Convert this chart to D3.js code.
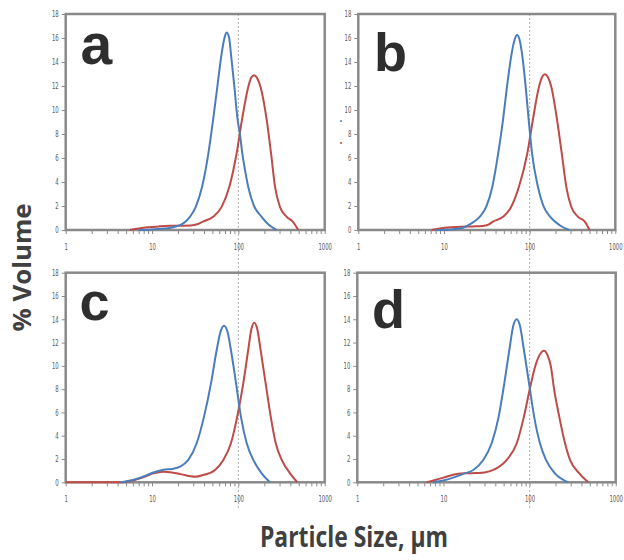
<!DOCTYPE html>
<html>
<head>
<meta charset="utf-8">
<script src="https://cdn.jsdelivr.net/npm/d3@7"></script>
<style>
  body { margin: 0; background: #fff; }
  .tick text { font-family: "Liberation Sans Narrow", "DejaVu Sans Condensed", "DejaVu Sans", sans-serif; font-stretch: condensed; font-size: 8.5px; fill: #5a5a5a; }
  .tick line { stroke: #8a8a8a; stroke-width: 1; }
</style>
</head>
<body>
<svg id="chart" width="624" height="560"></svg>
<script>
// Axis ticks
const xMajorTicks = [1, 10, 100, 1000];
const yTicks = [0, 2, 4, 6, 8, 10, 12, 14, 16, 18];
const refSize = 100; // dashed reference line, µm

// Particle size (µm) vs % volume for each sample
const A_BLUE = [[7,0],[10,0.05],[14,0.12],[18,0.25],[23,0.55],[27.5,1.1],[32,1.9],[38,3.6],[45,6.4],[51,9.2],[57,11.9],[64,14.7],[69,16.0],[73,16.45],[78,16.05],[82,14.7],[90,11.9],[98,9.2],[104,8.05],[111,6.4],[120,4.9],[130,3.6],[150,2.1],[186,1.1],[220,0.5],[250,0.2],[278,0]];
const A_RED = [[5.5,0],[7,0.12],[9,0.22],[12,0.3],[16,0.35],[22,0.36],[28,0.38],[34,0.5],[39,0.7],[51,1.1],[64,1.93],[78.6,3.6],[95.5,6.4],[110,9.17],[130,11.9],[141,12.7],[152,12.9],[164,12.7],[181,11.9],[213,9.17],[239,6.4],[266,3.6],[303,1.93],[363,1.1],[426,0.7],[495,0]];

const B_BLUE = [[8,0],[12,0.05],[16,0.15],[20.9,0.55],[26.1,1.1],[31.2,1.94],[36.7,3.6],[43,6.4],[48.9,9.17],[54.4,11.94],[61.7,14.72],[67,15.9],[71.2,16.25],[76,15.9],[81.4,14.72],[89.9,11.94],[97.5,9.17],[106.6,6.4],[125,3.6],[146,1.94],[174,1.1],[224,0.4],[288,0]];
const B_RED = [[7.2,0],[9,0.12],[12,0.22],[16,0.28],[22,0.3],[28,0.33],[33,0.45],[37.4,0.7],[49,1.1],[61,1.94],[75,3.6],[94,6.4],[109,9.17],[128.6,11.94],[140,12.75],[151,12.97],[163,12.75],[179,11.94],[209,9.17],[237,6.4],[268,3.6],[306,1.94],[367,1.1],[440,0.7],[501,0]];

const C_BLUE = [[4.3,0],[6,0.2],[7.9,0.48],[10,0.8],[13.5,1.08],[17,1.15],[21.1,1.34],[26.3,1.92],[32.9,3.35],[40,5.64],[48.2,8.5],[56.1,11.36],[62,12.9],[68.2,13.45],[75,12.9],[82,11.36],[94,8.5],[107,5.64],[125,3.35],[149,1.92],[186,0.77],[232,0]];
const C_RED = [[1,0],[4.6,0],[6,0.15],[8,0.45],[10.4,0.77],[13.5,0.91],[17,0.85],[22,0.68],[31.5,0.48],[39,0.62],[53.6,1.06],[67,1.92],[82,3.35],[97,5.64],[114,8.5],[130,11.36],[142,13.2],[153,13.71],[165,13.2],[181,11.36],[207,8.5],[237,5.64],[271,3.35],[318,1.92],[397,0.77],[482,0]];

const D_BLUE = [[7.6,0],[10,0.15],[13,0.4],[17,0.72],[22.2,1.06],[29,1.92],[36.3,3.35],[43.8,5.64],[50.9,8.5],[58.2,11.36],[65,13.5],[70.9,14.0],[77,13.5],[86,11.36],[98.6,8.5],[113,5.64],[132,3.35],[155,1.92],[197,0.77],[282,0]];
const D_RED = [[6.4,0],[8,0.2],[10,0.4],[13,0.65],[18,0.77],[24,0.8],[30,0.85],[38,1.06],[54.3,1.92],[71,3.35],[86,5.64],[101,8.07],[116,9.93],[130,10.9],[147,11.3],[162,10.9],[177,9.93],[192,8.07],[221,5.64],[258,3.35],[295,1.92],[378,0.77],[481,0]];

const panelLetters = ["a", "b", "c", "d"];
const panelData = [[A_BLUE, A_RED], [B_BLUE, B_RED], [C_BLUE, C_RED], [D_BLUE, D_RED]];

// Plot-area boxes [left, right, top, bottom] and letter placement
const layout = [
  { box: [65.7, 324.7, 14, 230],    letter: [80.5, 63.5, 57] },
  { box: [358.3, 615.3, 14, 230],   letter: [374, 70.5, 54] },
  { box: [65.7, 324.7, 272.7, 482.3], letter: [79.5, 320, 54] },
  { box: [357.3, 615.7, 272.7, 482.3], letter: [372, 328, 54] }
];

const BLUE = "#4a7ebb", RED = "#be4b48", FRAME = "#8a8a8a";

const svg = d3.select("#chart");

// all log ticks: 1..9 in every decade, plus 1000
const xAllTicks = [];
[1, 10, 100].forEach(d => d3.range(1, 10).forEach(k => xAllTicks.push(d * k)));
xAllTicks.push(1000);

const scales = layout.map(l => ({
  x: d3.scaleLog().domain([1, 1000]).range([l.box[0], l.box[1]]),
  y: d3.scaleLinear().domain([0, 18]).range([l.box[3], l.box[2]])
}));

// narrow tick numerals
function squeezeLabels(sel) {
  sel.selectAll(".tick text").each(function () {
    const t = d3.select(this);
    const s = t.text();
    if (s) t.attr("textLength", 3.4 * s.length).attr("lengthAdjust", "spacingAndGlyphs");
  });
}

// dashed reference lines at 100 µm, spanning both rows of each column
[0, 1].forEach(col => {
  const xp = scales[col].x(refSize);
  svg.append("line")
    .attr("x1", xp).attr("x2", xp)
    .attr("y1", layout[col].box[2]).attr("y2", 508)
    .attr("stroke", "#b0b0b0").attr("stroke-width", 1)
    .attr("stroke-dasharray", "2,2");
});

layout.forEach((l, i) => {
  const { x, y } = scales[i];
  const g = svg.append("g");

  // x axis with log minor ticks
  const xAxis = d3.axisBottom(x).tickValues(xAllTicks).tickSize(4).tickPadding(10)
    .tickFormat(v => xMajorTicks.includes(v) ? String(v) : "");
  const gx = g.append("g").attr("transform", `translate(0,${l.box[3]})`).call(xAxis);
  gx.select(".domain").remove();
  squeezeLabels(gx);

  const yAxis = d3.axisLeft(y).tickValues(yTicks).tickSize(4).tickPadding(3);
  const gy = g.append("g").attr("transform", `translate(${l.box[0]},0)`).call(yAxis);
  gy.select(".domain").remove();
  squeezeLabels(gy);

  // plot frame
  g.append("rect")
    .attr("x", l.box[0]).attr("y", l.box[2])
    .attr("width", l.box[1] - l.box[0]).attr("height", l.box[3] - l.box[2])
    .attr("fill", "none").attr("stroke", FRAME).attr("stroke-width", 2.5);

  const line = d3.line()
    .x(d => x(d[0])).y(d => y(d[1]))
    .curve(d3.curveMonotoneX);

  const [blue, red] = panelData[i];
  g.append("path").datum(red).attr("d", line)
    .attr("fill", "none").attr("stroke", RED).attr("stroke-width", 2);
  g.append("path").datum(blue).attr("d", line)
    .attr("fill", "none").attr("stroke", BLUE).attr("stroke-width", 2);

  g.append("text")
    .attr("x", l.letter[0]).attr("y", l.letter[1])
    .attr("font-family", "Liberation Sans, Arial, sans-serif")
    .attr("font-weight", "bold").attr("font-size", l.letter[2])
    .attr("fill", "#2e2e2e")
    .text(panelLetters[i]);
});

// remnants of the series legend beside panel b
svg.append("line").attr("x1", 340).attr("x2", 342).attr("y1", 121).attr("y2", 121)
  .attr("stroke", BLUE).attr("stroke-width", 1.5);
svg.append("line").attr("x1", 340).attr("x2", 342).attr("y1", 143).attr("y2", 143)
  .attr("stroke", RED).attr("stroke-width", 1.5);

// axis titles
svg.append("text")
  .attr("transform", "translate(30.5,267.5) rotate(-90)")
  .attr("text-anchor", "middle")
  .attr("font-family", "Open Sans, sans-serif").attr("font-weight", "bold")
  .attr("font-size", 25).attr("fill", "#404040")
  .attr("textLength", 128).attr("lengthAdjust", "spacingAndGlyphs")
  .text("% Volume");

svg.append("text")
  .attr("x", 354).attr("y", 547)
  .attr("text-anchor", "middle")
  .attr("font-family", "Open Sans, sans-serif").attr("font-weight", "bold")
  .attr("font-size", 28).attr("fill", "#404040")
  .attr("textLength", 188).attr("lengthAdjust", "spacingAndGlyphs")
  .text("Particle Size, µm");
</script>
</body>
</html>
